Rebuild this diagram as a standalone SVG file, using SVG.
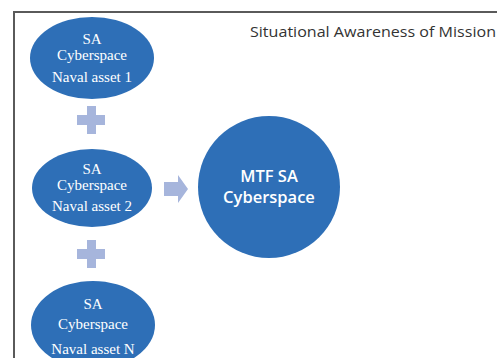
<svg xmlns="http://www.w3.org/2000/svg" width="497" height="358" viewBox="0 0 497 358">
  <style>
    .asset { fill: #2e6fb7; }
    .asset-text { font-family: "Liberation Serif", "Times New Roman", serif; font-size: 15px; fill: #ffffff; text-anchor: middle; }
    .core-text { font-family: "Open Sans", "Liberation Sans", sans-serif; font-size: 16.5px; font-weight: 600; fill: #ffffff; text-anchor: middle; }
    .title { font-family: "Open Sans", "Liberation Sans", sans-serif; font-size: 14px; fill: #333333; }
    .joiner { fill: #a6b5dc; }
  </style>

  <!-- frame -->
  <rect x="0" y="0" width="497" height="358" fill="#ffffff"/>
  <path d="M14 360 V12 H500" fill="none" stroke="#5a5a5a" stroke-width="2"/>

  <text class="title" x="250" y="37" textLength="246" lengthAdjust="spacingAndGlyphs">Situational Awareness of Mission</text>

  <g id="asset-1">
    <ellipse class="asset" cx="92" cy="58" rx="62" ry="41"/>
    <text class="asset-text" x="92" y="44">SA</text>
    <text class="asset-text" x="92" y="60">Cyberspace</text>
    <text class="asset-text" x="92" y="82">Naval asset 1</text>
  </g>

  <g id="asset-2">
    <ellipse class="asset" cx="92" cy="188" rx="60" ry="39"/>
    <text class="asset-text" x="92" y="174">SA</text>
    <text class="asset-text" x="92" y="190">Cyberspace</text>
    <text class="asset-text" x="92" y="211">Naval asset 2</text>
  </g>

  <g id="asset-n">
    <ellipse class="asset" cx="93" cy="325" rx="62" ry="44"/>
    <text class="asset-text" x="93" y="309">SA</text>
    <text class="asset-text" x="93" y="329">Cyberspace</text>
    <text class="asset-text" x="93" y="354">Naval asset N</text>
  </g>

  <g id="mtf-sa">
    <circle class="asset" cx="269" cy="187" r="71"/>
    <text class="core-text" x="269" y="182">MTF SA</text>
    <text class="core-text" x="269" y="203">Cyberspace</text>
  </g>

  <g id="connectors">
    <!-- plus signs between asset ellipses -->
    <path class="joiner" d="M87 106 H96 V115 H105 V125 H96 V134 H87 V125 H77 V115 H87 Z"/>
    <path class="joiner" d="M87 240 H96 V249 H105 V259 H96 V268 H87 V259 H77 V249 H87 Z"/>
    <!-- block arrow into the mission picture -->
    <path class="joiner" d="M164 182 H178 V175 L188 189 L178 203 V196 H164 Z"/>
  </g>
</svg>
